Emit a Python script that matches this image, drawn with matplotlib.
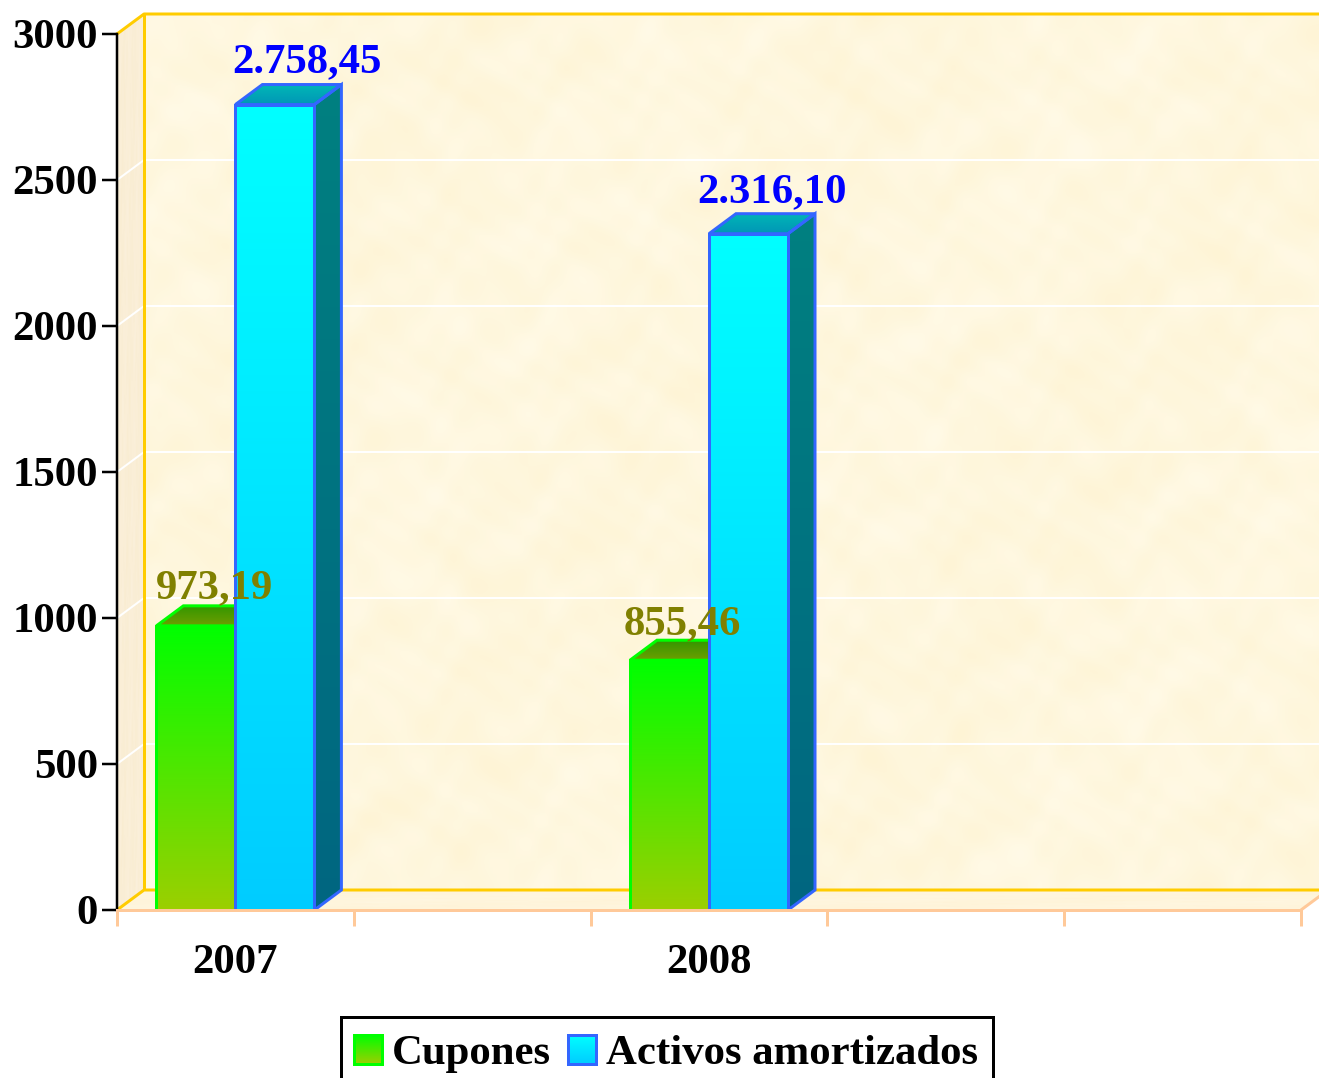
import numpy as np
import matplotlib
matplotlib.use("Agg")
import matplotlib.pyplot as plt
from matplotlib.patches import Polygon, Rectangle
from matplotlib.lines import Line2D
from matplotlib.image import BboxImage
from matplotlib.legend_handler import HandlerBase
from matplotlib.transforms import Bbox, TransformedBbox

plt.rcParams['font.family'] = ['Liberation Serif', 'DejaVu Serif']

# ---- data ----
years = ['2007', '2008']
series_names = ['Cupones', 'Activos amortizados']
cupones = [973.19, 855.46]
activos = [2758.45, 2316.10]
cupones_labels = ['973,19', '855,46']
activos_labels = ['2.758,45', '2.316,10']
y_ticks = [0, 500, 1000, 1500, 2000, 2500, 3000]

# ---- style ----
W, H = 1319, 1078
PX_X0, PX_X1, PX_Y0, PX_Y1 = 117, 1301, 910, 34
FS = 30.8
GREEN_TOP, GREEN_BOT = (0, 255, 0), (156, 207, 0)
BLUE_TOP, BLUE_BOT = (0, 255, 255), (0, 204, 255)
YELLOW, PEACH = '#FFCC00', '#FFC999'
px = 0.72  # points per pixel at dpi 100

fig = plt.figure(figsize=(W / 100, H / 100), dpi=100, facecolor='white')
ax = fig.add_axes([PX_X0 / W, 1 - PX_Y0 / H, (PX_X1 - PX_X0) / W, (PX_Y0 - PX_Y1) / H])
XMIN, XMAX = -0.25, 2.25
ax.patch.set_visible(False)

ux = (XMAX - XMIN) / (PX_X1 - PX_X0)
uy = 3000 / (PX_Y0 - PX_Y1)
DX, DY = 27 * ux, 20 * uy
BW = 79 * ux


def clip_to(im, poly):
    im.set_clip_box(fig.bbox)
    im.set_clip_path(Polygon(poly, closed=True, transform=ax.transData))


def gradient(poly, c_top, c_bot, z):
    xs = [p[0] for p in poly]
    ys = [p[1] for p in poly]
    g = np.linspace(0, 1, 256)[:, None, None]
    img = (np.array(c_top) * (1 - g) + np.array(c_bot) * g) / 255
    im = ax.imshow(img, extent=(min(xs), max(xs), min(ys), max(ys)), aspect='auto',
                   origin='upper', zorder=z)
    clip_to(im, poly)


def texture(poly, base, z):
    yy, xx = np.mgrid[0:240, 0:320]
    t = (np.sin(xx / 5.3 + 1.7 * np.sin(yy / 7.1)) + np.sin(yy / 4.1 + 1.9 * np.sin(xx / 8.7))
         + 0.8 * np.sin((xx + yy) / 2.7 + 1.5 * np.sin(xx / 4.3)) + 0.7 * np.sin((xx - yy) / 2.1 + 2 * np.sin(yy / 6.3))
         + 0.9 * np.sin(xx / 19 + yy / 31))
    t = t / np.abs(t).max()
    img = np.clip((np.array(base)[None, None, :] + t[:, :, None] * np.array([0.3, 3, 9])) / 255, 0, 1)
    xs = [p[0] for p in poly]
    ys = [p[1] for p in poly]
    im = ax.imshow(img, extent=(min(xs), max(xs), min(ys), max(ys)), aspect='auto',
                   interpolation='bicubic', zorder=z)
    clip_to(im, poly)


# walls
wall = [(XMIN + DX, DY), (XMAX + DX, DY), (XMAX + DX, 3000 + DY), (XMIN + DX, 3000 + DY)]
side = [(XMIN, 0), (XMIN + DX, DY), (XMIN + DX, 3000 + DY), (XMIN, 3000)]
floor = [(XMIN, 0), (XMAX, 0), (XMAX + DX, DY), (XMIN + DX, DY)]
texture(wall, (255, 247, 222), 0)
texture(side, (250, 238, 214), 0)
texture(floor, (255, 245, 220), 0)


def seg(xs, ys, c, w, z=1):
    ax.add_line(Line2D(xs, ys, color=c, lw=w * px, zorder=z, clip_on=False, solid_capstyle='butt'))


# grid
for v in y_ticks[1:-1]:
    seg([XMIN, XMIN + DX, XMAX + DX], [v, v + DY, v + DY], 'white', 2)
# wall borders
seg([XMIN + DX, XMIN + DX], [DY, 3000 + DY], YELLOW, 3, 2)
seg([XMIN, XMIN + DX, XMAX + DX], [3000, 3000 + DY, 3000 + DY], YELLOW, 3, 2)
seg([XMIN, XMIN + DX, XMAX + DX], [0, DY, DY], YELLOW, 3, 2)
seg([XMAX, XMAX + DX], [0, DY], PEACH, 3, 2)


def bar3d(x0, v, c_top, c_bot, edge, lw, side_cols, top_cols, z):
    x1 = x0 + BW
    s = [(x1, 0), (x1 + DX, DY), (x1 + DX, v + DY), (x1, v)]
    t = [(x0, v), (x1, v), (x1 + DX, v + DY), (x0 + DX, v + DY)]
    f = [(x0, 0), (x1, 0), (x1, v), (x0, v)]
    gradient(s, side_cols[0], side_cols[1], z)
    gradient(t, top_cols[0], top_cols[1], z)
    gradient(f, c_top, c_bot, z)
    outlines = [(s, False), (t, True), ([f[0], f[3], f[2], f[1]], False)]
    for poly, closed in outlines:
        ax.add_patch(Polygon(poly, closed=closed, fill=False, edgecolor=edge, lw=lw * px,
                             zorder=z + 0.1, joinstyle='miter', clip_on=False))


for i, yr in enumerate(years):
    bar3d(i - BW, cupones[i], GREEN_TOP, GREEN_BOT, '#00FF00', 3,
          ((0, 128, 0), (78, 104, 0)), ((50, 150, 0), (110, 158, 0)), 3)
    bar3d(i, activos[i], BLUE_TOP, BLUE_BOT, '#3366FF', 3,
          ((0, 128, 128), (0, 102, 128)), ((0, 182, 182), (0, 150, 182)), 4)

# value labels
cup_off = [(-1, 28), (-6, 26)]
act_off = [(-3, 32), (-12, 31)]
for i in range(len(years)):
    ax.annotate(cupones_labels[i], (i - BW, cupones[i]),
                xytext=(cup_off[i][0] * px, cup_off[i][1] * px), textcoords='offset points',
                ha='left', va='baseline', color='#808000', fontsize=FS, fontweight='bold', zorder=6)
    ax.annotate(activos_labels[i], (i, activos[i]),
                xytext=(act_off[i][0] * px, act_off[i][1] * px), textcoords='offset points',
                ha='left', va='baseline', color='#0000FF', fontsize=FS, fontweight='bold', zorder=6)

# axes
ax.set_xlim(XMIN, XMAX)
ax.set_ylim(0, 3000)
ax.set_aspect('auto')
for s in ('top', 'right'):
    ax.spines[s].set_visible(False)
ax.spines['left'].set_color('black')
ax.spines['left'].set_linewidth(2.5 * px)
ax.spines['bottom'].set_color(PEACH)
ax.spines['bottom'].set_linewidth(3 * px)
for s in ax.spines.values():
    s.set_zorder(5)
ax.set_yticks(y_ticks)
ax.set_yticklabels([str(v) for v in y_ticks], fontsize=FS, fontweight='bold')
ax.tick_params(axis='y', length=15 * px, width=2.5 * px, pad=4 * px, color='black')
ax.set_xticks(range(len(years)))
ax.set_xticklabels(years, fontsize=FS, fontweight='bold')
ax.tick_params(axis='x', which='major', length=0, pad=34 * px)
ax.set_xticks(np.arange(XMIN, XMAX + 0.01, 0.5), minor=True)
ax.tick_params(axis='x', which='minor', length=16 * px, width=3 * px, color=PEACH)


# legend
class GradHandler(HandlerBase):
    def __init__(self, c_top, c_bot, edge):
        super().__init__()
        self.c = (c_top, c_bot, edge)

    def create_artists(self, legend, orig, xd, yd, w, h, fs, trans):
        c_top, c_bot, edge = self.c
        g = np.linspace(0, 1, 64)[:, None, None]
        img = (np.array(c_top) * (1 - g) + np.array(c_bot) * g) / 255
        bb = TransformedBbox(Bbox.from_bounds(-xd, -yd, w, h), trans)
        im = BboxImage(bb, origin='upper', interpolation='bilinear')
        im.set_data(img)
        r = Rectangle((-xd, -yd), w, h, fill=False, edgecolor=edge, lw=3 * px, transform=trans)
        return [im, r]


fig.add_artist(Rectangle((341 / W, 1 - 1090 / H), (993 - 341) / W, (1090 - 1017) / H,
                         transform=fig.transFigure, facecolor='white', edgecolor='black',
                         lw=3 * px, zorder=-1))
h1 = Rectangle((0, 0), 1, 1)
h2 = Rectangle((0, 0), 1, 1)
leg = ax.legend([h1, h2], series_names, ncols=2, loc='upper left',
                bbox_to_anchor=(354 / W, 1 - 1035 / H), bbox_transform=fig.transFigure,
                borderaxespad=0, frameon=False,
                prop={'size': FS, 'weight': 'bold'},
                handlelength=0.65, handleheight=0.65, handletextpad=0.24, columnspacing=0.39,
                borderpad=0,
                handler_map={h1: GradHandler(GREEN_TOP, GREEN_BOT, '#00FF00'),
                             h2: GradHandler(BLUE_TOP, BLUE_BOT, '#3366FF')})
leg.set_zorder(10)
leg.set_clip_on(False)

fig.savefig('out.png', dpi=100)
